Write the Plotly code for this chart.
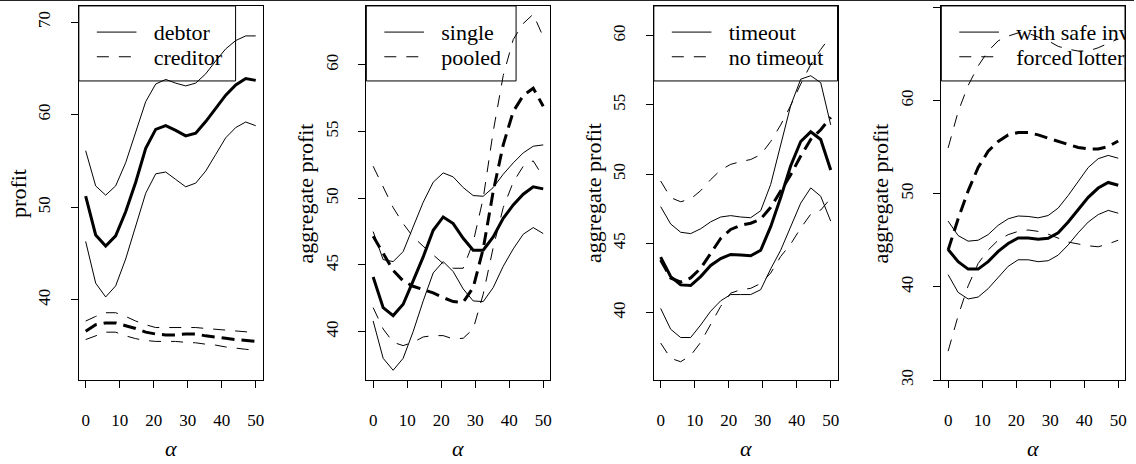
import plotly.graph_objects as go

# ---------------- data ----------------
alpha = [0, 2.94, 5.88, 8.82, 11.76, 14.71, 17.65, 20.59, 23.53, 26.47,
         29.41, 32.35, 35.29, 38.24, 41.18, 44.12, 47.06, 50]

# panel 1: debtor / creditor
debtor_mean = [51.2, 47.0, 45.8, 46.9, 49.5, 52.7, 56.35, 58.4, 58.8, 58.3, 57.7, 58.0, 59.25, 60.7, 62.1, 63.2, 63.9, 63.7]
debtor_hi = [56.1, 52.3, 51.3, 52.3, 54.8, 58.0, 61.4, 63.3, 63.8, 63.4, 63.1, 63.4, 64.4, 65.8, 67.1, 68.0, 68.5, 68.5]
debtor_lo = [46.3, 41.8, 40.3, 41.5, 44.4, 47.9, 51.5, 53.6, 53.8, 53.0, 52.2, 52.6, 53.9, 55.7, 57.5, 58.6, 59.2, 58.8]
creditor_mean = [36.6, 37.3, 37.5, 37.5, 37.2, 36.9, 36.5, 36.3, 36.2, 36.2, 36.3, 36.3, 36.1, 36.0, 35.85, 35.7, 35.6, 35.5]
creditor_hi = [37.7, 38.2, 38.6, 38.6, 38.2, 37.7, 37.3, 37.0, 37.0, 37.0, 37.0, 37.0, 36.9, 36.8, 36.7, 36.6, 36.5, 36.45]
creditor_lo = [35.7, 36.1, 36.5, 36.5, 36.1, 35.8, 35.6, 35.5, 35.5, 35.5, 35.4, 35.35, 35.2, 35.1, 34.9, 34.75, 34.65, 34.55]

# panel 2: single / pooled
single_mean = [44.1, 41.8, 41.2, 42.05, 43.8, 45.6, 47.6, 48.6, 48.1, 47.0, 46.1, 46.1, 47.1, 48.5, 49.5, 50.3, 50.85, 50.7]
single_hi = [47.5, 45.4, 45.25, 46.0, 47.85, 49.7, 51.2, 51.9, 51.6, 50.8, 50.2, 50.15, 50.8, 51.8, 52.65, 53.4, 53.9, 54.0]
single_lo = [40.8, 38.0, 37.1, 38.0, 40.0, 42.3, 44.4, 45.25, 44.5, 43.2, 42.3, 42.25, 43.3, 44.9, 46.2, 47.3, 47.8, 47.35]
pooled_mean = [47.15, 45.9, 44.6, 43.8, 43.4, 43.15, 42.9, 42.55, 42.25, 42.2, 43.3, 46.2, 50.5, 54.0, 56.5, 57.7, 58.25, 56.9]
pooled_hi = [52.4, 50.8, 49.3, 48.1, 47.1, 46.4, 45.75, 45.1, 44.75, 44.75, 46.7, 50.0, 55.0, 59.2, 61.9, 63.1, 63.8, 62.1]
pooled_lo = [41.8, 40.2, 39.2, 38.95, 39.2, 39.6, 39.7, 39.7, 39.45, 39.5, 40.2, 42.8, 46.3, 49.3, 51.2, 52.4, 52.8, 51.6]

# panel 3: timeout / no timeout
timeout_mean = [44.0, 42.6, 42.0, 41.95, 42.6, 43.4, 43.9, 44.2, 44.15, 44.1, 44.5, 46.2, 48.3, 50.6, 52.35, 53.05, 52.5, 50.3]
timeout_hi = [47.65, 46.4, 45.8, 45.7, 46.05, 46.55, 46.9, 47.0, 46.9, 46.85, 47.35, 49.25, 52.1, 54.95, 56.85, 57.1, 56.6, 53.55]
timeout_lo = [40.3, 38.8, 38.2, 38.2, 39.1, 40.1, 40.85, 41.3, 41.3, 41.3, 41.65, 43.15, 44.5, 46.25, 47.9, 49.0, 48.4, 46.6]
notimeout_mean = [43.8, 42.5, 42.2, 42.5, 43.2, 44.3, 45.35, 46.0, 46.3, 46.45, 46.75, 47.6, 48.8, 49.95, 51.3, 52.5, 53.2, 54.1]
notimeout_hi = [49.5, 48.3, 48.0, 48.2, 48.8, 49.6, 50.3, 50.7, 50.9, 51.05, 51.4, 52.35, 53.55, 54.95, 56.5, 57.9, 59.0, 59.95]
notimeout_lo = [37.8, 36.7, 36.45, 36.9, 37.85, 39.15, 40.45, 41.4, 41.65, 41.75, 42.1, 42.85, 44.05, 44.95, 46.1, 47.1, 47.4, 48.25]

# panel 4: with safe investment / forced lottery
safe_mean = [44.0, 42.7, 41.9, 41.9, 42.7, 43.8, 44.65, 45.25, 45.25, 45.1, 45.2, 45.8, 46.95, 48.25, 49.6, 50.6, 51.2, 50.9]
safe_hi = [47.05, 45.5, 44.9, 45.0, 45.6, 46.6, 47.3, 47.6, 47.55, 47.4, 47.65, 48.45, 49.8, 51.35, 52.8, 53.75, 54.1, 53.8]
safe_lo = [41.3, 39.4, 38.7, 38.9, 39.8, 40.95, 42.2, 42.9, 42.9, 42.7, 42.8, 43.4, 44.5, 45.8, 46.95, 47.75, 48.2, 47.9]
forced_mean = [43.95, 47.3, 50.3, 52.8, 54.55, 55.6, 56.3, 56.55, 56.55, 56.3, 55.95, 55.6, 55.25, 54.95, 54.8, 54.8, 55.05, 55.65]
forced_hi = [54.9, 58.8, 61.6, 63.7, 65.3, 66.4, 66.9, 67.25, 67.2, 66.8, 66.4, 65.8, 65.5, 65.3, 65.3, 65.65, 66.1, 66.6]
forced_lo = [33.1, 36.9, 40.1, 42.5, 43.95, 45.0, 45.6, 45.95, 46.1, 45.95, 45.65, 45.2, 44.8, 44.6, 44.4, 44.3, 44.6, 45.0]

x_ticks = [0, 10, 20, 30, 40, 50]
y_labels = ["profit", "aggregate profit", "aggregate profit", "aggregate profit"]
legend_names = [["debtor", "creditor"], ["single", "pooled"],
                ["timeout", "no timeout"], ["with safe investment", "forced lottery"]]
y_ticks = [[40, 50, 60, 70], [40, 45, 50, 55, 60], [40, 45, 50, 55, 60], [30, 40, 50, 60, 70]]

# ---------------- layout constants ----------------
W, H = 1136, 464
BOX_LEFT = [79, 367, 655, 943]
BOX_W = 184
BOX_TOP, BOX_BOT = 6, 385
BOX_H = BOX_BOT - BOX_TOP
X_RANGE = [-2, 52]
Y_RANGES = [[31.33, 71.74], [36.37, 64.42], [35.13, 62.14], [30.0, 70.14]]
LEGEND_W = [157, 150, 230, 260]
LEGEND_H = 76
FONT = "Liberation Serif"
TICK_SIZE = 17
TEXT_SIZE = 22
THIN_DASH = "12px,10px"
BOLD_DASH = "13px,7px"

series = [
    ((debtor_mean, debtor_hi, debtor_lo), (creditor_mean, creditor_hi, creditor_lo)),
    ((single_mean, single_hi, single_lo), (pooled_mean, pooled_hi, pooled_lo)),
    ((timeout_mean, timeout_hi, timeout_lo), (notimeout_mean, notimeout_hi, notimeout_lo)),
    ((safe_mean, safe_hi, safe_lo), (forced_mean, forced_hi, forced_lo)),
]

fig = go.Figure()
shapes = []
annotations = []

for k in range(4):
    n = k + 1
    xa = "x" if n == 1 else f"x{n}"
    ya = "y" if n == 1 else f"y{n}"
    (s_mean, s_hi, s_lo), (d_mean, d_hi, d_lo) = series[k]

    for vals, width, dash in [
        (s_hi, 1, "solid"), (s_lo, 1, "solid"), (s_mean, 3, "solid"),
        (d_hi, 1, THIN_DASH), (d_lo, 1, THIN_DASH), (d_mean, 3, BOLD_DASH),
    ]:
        fig.add_trace(go.Scatter(
            x=alpha, y=vals, mode="lines", xaxis=xa, yaxis=ya,
            line=dict(color="black", width=width, dash=dash),
            showlegend=False, hoverinfo="skip"))

    # legend text as clipped text marks (R clips the legend to the plot region)
    yr = Y_RANGES[k]
    tx = X_RANGE[0] + (75 / BOX_W) * (X_RANGE[1] - X_RANGE[0])
    ty = [yr[1] - (29.0 / BOX_H) * (yr[1] - yr[0]),
          yr[1] - (54.0 / BOX_H) * (yr[1] - yr[0])]
    fig.add_trace(go.Scatter(
        x=[tx, tx], y=ty, mode="text", text=legend_names[k],
        textposition="middle right", xaxis=xa, yaxis=ya,
        textfont=dict(family=FONT, size=TEXT_SIZE, color="black"),
        cliponaxis=True, showlegend=False, hoverinfo="skip"))

    xd, yd = f"{xa} domain", f"{ya} domain"
    shapes.append(dict(type="rect", xref=xd, yref=yd,
                       x0=0, x1=min(1.0, LEGEND_W[k] / BOX_W),
                       y0=1 - LEGEND_H / BOX_H, y1=1,
                       line=dict(color="black", width=1)))
    for row, dash in [(26.5, "solid"), (51.5, THIN_DASH)]:
        yy = 1 - row / BOX_H
        shapes.append(dict(type="line", xref=xd, yref=yd,
                           x0=18 / BOX_W, x1=57.7 / BOX_W, y0=yy, y1=yy,
                           line=dict(color="black", width=1, dash=dash)))

    annotations.append(dict(
        xref=xd, yref=yd, x=-60 / BOX_W, y=0.5, text=y_labels[k],
        textangle=-90, showarrow=False, xanchor="center", yanchor="middle",
        font=dict(family=FONT, size=TEXT_SIZE, color="black")))
    annotations.append(dict(
        xref=xd, yref=yd, x=0.5, y=-69 / BOX_H, text="<i>α</i>",
        showarrow=False, xanchor="center", yanchor="middle",
        font=dict(family=FONT, size=TEXT_SIZE, color="black")))

    common = dict(showline=True, mirror=True, linecolor="black", linewidth=1,
                  ticks="outside", ticklen=7, tickwidth=1, tickcolor="black",
                  showgrid=False, zeroline=False,
                  tickfont=dict(family=FONT, size=TICK_SIZE, color="black"))
    x0p = BOX_LEFT[k] / W
    fig.update_layout({
        ("xaxis" if n == 1 else f"xaxis{n}"): dict(
            domain=[x0p, (BOX_LEFT[k] + BOX_W) / W], range=X_RANGE,
            anchor=ya, tickvals=x_ticks, ticklabelstandoff=18, **common),
        ("yaxis" if n == 1 else f"yaxis{n}"): dict(
            domain=[1 - BOX_BOT / H, 1 - BOX_TOP / H], range=yr,
            anchor=xa, tickvals=y_ticks[k], tickangle=-90,
            ticklabelstandoff=14, **common),
    })

# thin border line along the top of the image
shapes.append(dict(type="line", xref="paper", yref="paper", x0=0, x1=1,
                   y0=1 - 0.5 / H, y1=1 - 0.5 / H,
                   line=dict(color="#222222", width=1)))

fig.update_layout(width=W, height=H, margin=dict(l=0, r=0, t=0, b=0),
                  plot_bgcolor="white", paper_bgcolor="white",
                  shapes=shapes, annotations=annotations, showlegend=False)

fig.write_html("out.html", config={"displayModeBar": False},
               post_script="document.body.style.margin='0';")
